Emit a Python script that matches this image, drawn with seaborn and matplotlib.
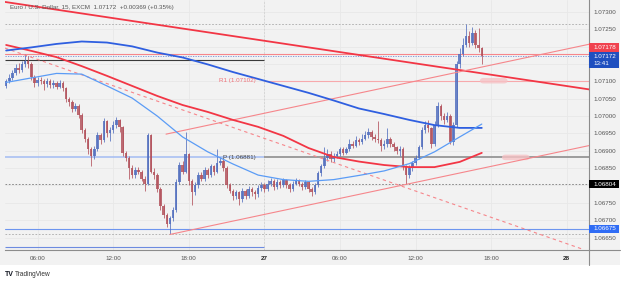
import numpy as np
import pandas as pd
import matplotlib
matplotlib.use("Agg")
import matplotlib.pyplot as plt
import matplotlib.transforms as mtransforms
from matplotlib.patches import Rectangle, FancyBboxPatch
from matplotlib.lines import Line2D
import seaborn as sns

# ---- data (EUR/USD, 15 min bars) ----
# time axis in hours counted from day 26 00:00
bar_start = 3.5
bar_step = 0.25
first_open = 1.07088

closes = [
    1.07100, 1.07110, 1.07125, 1.07140, 1.07132, 1.07150, 1.07160, 1.07150,
    1.07112, 1.07095, 1.07105, 1.07100, 1.07092, 1.07102, 1.07090, 1.07096,
    1.07085, 1.07095, 1.07080, 1.07050, 1.07040, 1.07020, 1.07030, 1.07003,
    1.06960, 1.06935, 1.06905, 1.06885, 1.06905, 1.06945, 1.06930, 1.06985,
    1.06950, 1.06960, 1.06975, 1.06990, 1.06968, 1.06895, 1.06880, 1.06850,
    1.06830, 1.06845, 1.06840, 1.06820, 1.06805, 1.06945, 1.06840, 1.06830,
    1.06790, 1.06740, 1.06715, 1.06690, 1.06705, 1.06730, 1.06810, 1.06860,
    1.06840, 1.06890, 1.06812, 1.06780, 1.06800, 1.06830, 1.06820, 1.06845,
    1.06830, 1.06855, 1.06840, 1.06865, 1.06872, 1.06850, 1.06800, 1.06785,
    1.06770, 1.06780, 1.06760, 1.06785, 1.06770, 1.06790, 1.06780, 1.06775,
    1.06792, 1.06800, 1.06790, 1.06805, 1.06812, 1.06795, 1.06810, 1.06800,
    1.06815, 1.06800, 1.06790, 1.06805, 1.06815, 1.06805, 1.06795, 1.06810,
    1.06790, 1.06780, 1.06800, 1.06835, 1.06855, 1.06880, 1.06890, 1.06875,
    1.06885, 1.06890, 1.06905, 1.06895, 1.06905, 1.06920, 1.06915, 1.06930,
    1.06925, 1.06935, 1.06945, 1.06955, 1.06940, 1.06935, 1.06930, 1.06915,
    1.06920, 1.06935, 1.06920, 1.06910, 1.06900, 1.06905, 1.06855, 1.06830,
    1.06850, 1.06865, 1.06880, 1.06910, 1.06960, 1.06975, 1.06965, 1.06920,
    1.06975, 1.07030, 1.07000, 1.06990, 1.07000, 1.06925, 1.06975, 1.07150,
    1.07180, 1.07205, 1.07230, 1.07212, 1.07240, 1.07205, 1.07195, 1.07172,
]
highs = [
    1.07108, 1.07120, 1.07132, 1.07150, 1.07152, 1.07160, 1.07178, 1.07172,
    1.07155, 1.07118, 1.07112, 1.07114, 1.07108, 1.07110, 1.07108, 1.07104,
    1.07102, 1.07103, 1.07100, 1.07084, 1.07056, 1.07046, 1.07038, 1.07036,
    1.07008, 1.06966, 1.06940, 1.06912, 1.06915, 1.06955, 1.06952, 1.06995,
    1.06990, 1.06968, 1.06985, 1.06996, 1.06992, 1.06972, 1.06900, 1.06885,
    1.06858, 1.06852, 1.06852, 1.06846, 1.06826, 1.06950, 1.06948, 1.06850,
    1.06835, 1.06795, 1.06748, 1.06722, 1.06712, 1.06738, 1.06818, 1.06868,
    1.06872, 1.06955, 1.06895, 1.06818, 1.06810, 1.06838, 1.06840, 1.06852,
    1.06850, 1.06862, 1.06860, 1.06905, 1.06882, 1.06878, 1.06855, 1.06806,
    1.06790, 1.06788, 1.06785, 1.06792, 1.06790, 1.06798, 1.06795, 1.06786,
    1.06800, 1.06810, 1.06806, 1.06815, 1.06822, 1.06818, 1.06818, 1.06815,
    1.06822, 1.06820, 1.06806, 1.06812, 1.06822, 1.06820, 1.06810, 1.06816,
    1.06814, 1.06795, 1.06808, 1.06842, 1.06862, 1.06912, 1.06905, 1.06898,
    1.06895, 1.06900, 1.06912, 1.06910, 1.06912, 1.06935, 1.06928, 1.06942,
    1.06938, 1.06948, 1.06958, 1.06965, 1.06960, 1.06948, 1.06985, 1.06938,
    1.06932, 1.06965, 1.06940, 1.06925, 1.06915, 1.06915, 1.06910, 1.06860,
    1.06858, 1.06872, 1.06888, 1.06918, 1.06968, 1.06985, 1.06990, 1.06970,
    1.06985, 1.07040, 1.07035, 1.07010, 1.07012, 1.07005, 1.06982, 1.07158,
    1.07195, 1.07225, 1.07264, 1.07245, 1.07258, 1.07248, 1.07255, 1.07200,
]
lows = [
    1.07080, 1.07094, 1.07105, 1.07118, 1.07125, 1.07128, 1.07142, 1.07140,
    1.07105, 1.07085, 1.07088, 1.07092, 1.07075, 1.07085, 1.07082, 1.07080,
    1.07078, 1.07080, 1.07072, 1.07042, 1.07030, 1.07012, 1.07014, 1.06995,
    1.06950, 1.06925, 1.06890, 1.06855, 1.06875, 1.06898, 1.06920, 1.06925,
    1.06940, 1.06928, 1.06952, 1.06965, 1.06955, 1.06885, 1.06870, 1.06820,
    1.06822, 1.06822, 1.06832, 1.06812, 1.06785, 1.06800, 1.06835, 1.06820,
    1.06782, 1.06730, 1.06705, 1.06680, 1.06660, 1.06698, 1.06725, 1.06805,
    1.06832, 1.06835, 1.06800, 1.06745, 1.06772, 1.06792, 1.06812, 1.06812,
    1.06822, 1.06825, 1.06830, 1.06835, 1.06858, 1.06842, 1.06792, 1.06778,
    1.06758, 1.06762, 1.06745, 1.06752, 1.06762, 1.06765, 1.06770, 1.06762,
    1.06768, 1.06785, 1.06780, 1.06785, 1.06798, 1.06788, 1.06790, 1.06792,
    1.06795, 1.06792, 1.06782, 1.06785, 1.06800, 1.06798, 1.06788, 1.06790,
    1.06782, 1.06770, 1.06775, 1.06795, 1.06828, 1.06850, 1.06872, 1.06868,
    1.06868, 1.06878, 1.06885, 1.06888, 1.06890, 1.06900, 1.06908, 1.06910,
    1.06918, 1.06920, 1.06930, 1.06938, 1.06932, 1.06925, 1.06922, 1.06898,
    1.06905, 1.06912, 1.06910, 1.06898, 1.06890, 1.06885, 1.06845, 1.06805,
    1.06822, 1.06842, 1.06858, 1.06875, 1.06905, 1.06952, 1.06955, 1.06908,
    1.06915, 1.06968, 1.06990, 1.06978, 1.06982, 1.06920, 1.06918, 1.06970,
    1.07140, 1.07172, 1.07198, 1.07200, 1.07205, 1.07195, 1.07185, 1.07150,
]

# moving averages, read every two hours
ma_times = [3.5, 5.5, 7.5, 9.5, 11.5, 13.5, 15.5, 17.5, 19.5, 21.5,
            23.5, 25.5, 27.5, 29.5, 31.5, 33.5, 35.5, 37.5, 39.5, 41.25]
ma_slow_blue = [1.07189, 1.07198, 1.07208, 1.07215, 1.07212, 1.07201, 1.07183,
                1.07169, 1.07149, 1.07127, 1.07107, 1.07087, 1.07067, 1.07045,
                1.07022, 1.07006, 1.06989, 1.06974, 1.06966, 1.06966]
ma_fast_blue = [1.07097, 1.07110, 1.07123, 1.07121, 1.07087, 1.07052, 1.07000,
                1.06940, 1.06897, 1.06862, 1.06830, 1.06817, 1.06812, 1.06817,
                1.06829, 1.06842, 1.06863, 1.06897, 1.06940, 1.06977]
ma_red = [1.07205, 1.07188, 1.07170, 1.07144, 1.07116, 1.07087, 1.07058,
          1.07032, 1.07012, 1.06989, 1.06969, 1.06943, 1.06908, 1.06882,
          1.06869, 1.06859, 1.06853, 1.06853, 1.06868, 1.06894]

# drawn trend lines: (start time, end time), (start price, end price)
down_trend_t = [3.41, 49.76]
down_trend_p = [1.07329, 1.07077]
dashed_trend_t = [3.41, 49.21]
dashed_trend_p = [1.07196, 1.06617]
channel_up_t = [16.19, 49.76]
channel_up_p = [1.06948, 1.07207]
channel_low_t = [16.51, 49.76]
channel_low_p = [1.06659, 1.06915]

# horizontal levels
last_price = 1.07172
ask_level = 1.07178
r1_level = 1.07102
pivot_level = 1.06881
prev_close_level = 1.07161
prev_low_level = 1.06622
support_level = 1.06675
day_high = 1.07264
dotted_level = 1.06804
day_low = 1.06659

time_ticks = [6, 12, 18, 24, 30, 36, 42, 48]
time_labels = ["06:00", "12:00", "18:00", "27", "06:00", "12:00", "18:00", "28"]
price_ticks = [1.0665, 1.0670, 1.0675, 1.0685, 1.0690, 1.0695, 1.0700,
               1.0705, 1.0710, 1.0725, 1.0730]

# ---- styling ----
sns.set_theme(style="white")
plt.rcParams["font.family"] = ["Liberation Sans", "DejaVu Sans"]
FS = 4.5

BG = "#f2f2f2"
UP = "#5470bf"
DOWN = "#b3535d"
RED = "#f23645"
LIGHT_RED = "#f6868b"
BLUE = "#2f5fe0"
LIGHT_BLUE = "#5b9cf6"

W, H = 625, 283
fig = plt.figure(figsize=(W / 100, H / 100), dpi=100, facecolor="white")
fig.add_artist(Rectangle((0, 1 - 265 / H), 620 / W, 265 / H,
                         transform=fig.transFigure, fc=BG, ec="none", zorder=0))
ax = fig.add_axes([5 / W, 1 - 250 / H, 584 / W, 250 / H])
ax.set_facecolor(BG)

t_min, t_max = 3.41, 49.76
ax.set_xlim(t_min, t_max)
ax.set_ylim(1.066141, 1.073346)

# faint grid
for t in time_ticks:
    ax.axvline(t, color="#e8e8e8", lw=0.6, zorder=0.5)
for p in np.arange(1.0665, 1.0731, 0.0005):
    ax.axhline(p, color="#e8e8e8", lw=0.6, zorder=0.5)
ax.axvline(24, color="#d0d0d0", lw=0.6, ls=(0, (2, 2)), zorder=0.6)

# candles
df = pd.DataFrame({"close": closes, "high": highs, "low": lows})
df["open"] = [first_open] + closes[:-1]
df["t"] = bar_start + bar_step * np.arange(len(df))
df["up"] = df["close"] >= df["open"]
colors = np.where(df["up"], UP, DOWN)
body_lo = df[["open", "close"]].min(axis=1)
body_h = (df["close"] - df["open"]).abs().clip(lower=0.000014)
ax.vlines(df["t"], df["low"], df["high"], colors=colors, lw=0.7, alpha=0.8, zorder=2)
ax.bar(df["t"], body_h, bottom=body_lo, width=0.2, color=colors, lw=0,
       alpha=0.85, zorder=2.1)

# horizontal levels
ax.axhline(day_high, color="#a8a8a8", lw=0.6, ls=(0, (2, 2)), zorder=1)
ax.axhline(dotted_level, color="#7a7a7a", lw=0.6, ls=(0, (2, 2)), zorder=1)
ax.axhline(day_low, color="#a8a8a8", lw=0.6, ls=(0, (2, 2)), zorder=1)
ax.axhline(ask_level, color=LIGHT_RED, lw=0.8, zorder=1)
ax.axhline(last_price, color="#6f8fd8", lw=0.6, ls=(0, (1.5, 1.5)), zorder=1)
ax.axhline(support_level, color="#6d95ef", lw=0.8, zorder=1)
ax.hlines(prev_close_level, t_min, 24, color="#3a3a3a", lw=0.8, zorder=1)
ax.hlines(pivot_level, t_min, 24, color="#a9c0f2", lw=1.2, zorder=1)
ax.hlines(prev_low_level, t_min, 24, color="#6d8be0", lw=0.8, zorder=1)
ax.hlines(pivot_level, 24, t_max, color="#8e8e8e", lw=1.2, zorder=1)
ax.hlines(r1_level, 24, t_max, color="#f7a9ac", lw=0.8, zorder=1)
for x0, lvl in [(41.1, r1_level), (42.85, pivot_level)]:
    ax.add_patch(FancyBboxPatch((x0, lvl - 0.00008), 2.2, 0.00016,
                                boxstyle="round,pad=0,rounding_size=0.3",
                                fc="#f6c3c6", ec="none", alpha=0.8,
                                mutation_aspect=0.0003, zorder=1.2))
ax.text(23.3, r1_level, "R1 (1.07102)", color="#f07078", fontsize=FS,
        ha="right", va="center", zorder=4)
ax.text(23.3, pivot_level, "P (1.06881)", color="#444444", fontsize=FS,
        ha="right", va="center", zorder=4)

# trend lines
sns.lineplot(x=down_trend_t, y=down_trend_p, ax=ax, color=RED, lw=1.3, zorder=3)
sns.lineplot(x=dashed_trend_t, y=dashed_trend_p, ax=ax, color=LIGHT_RED, lw=0.8,
             zorder=3)
ax.lines[-1].set_linestyle((0, (3, 3)))
sns.lineplot(x=channel_up_t, y=channel_up_p, ax=ax, color=LIGHT_RED, lw=0.8, zorder=3)
sns.lineplot(x=channel_low_t, y=channel_low_p, ax=ax, color=LIGHT_RED, lw=0.8, zorder=3)

# moving averages
sns.lineplot(x=ma_times, y=ma_red, ax=ax, color=RED, lw=1.3, zorder=3.2)
sns.lineplot(x=ma_times, y=ma_slow_blue, ax=ax, color=BLUE, lw=1.3, zorder=3.2)
sns.lineplot(x=ma_times, y=ma_fast_blue, ax=ax, color=LIGHT_BLUE, lw=0.9, zorder=3.3)

# axes
for s in ["top", "left"]:
    ax.spines[s].set_visible(False)
for s in ["bottom", "right"]:
    ax.spines[s].set_color("#8c8c8c")
    ax.spines[s].set_linewidth(0.8)
fig.add_artist(Line2D([589 / W, 589 / W], [1 - 265 / H, 1 - 250 / H],
                      transform=fig.transFigure, color="#8c8c8c", lw=0.8))
fig.add_artist(Line2D([589 / W, 620 / W], [1 - 250 / H, 1 - 250 / H],
                      transform=fig.transFigure, color="#8c8c8c", lw=0.8))

ax.set_xticks(time_ticks)
ax.set_xticklabels(time_labels)
ax.yaxis.tick_right()
ax.set_yticks(price_ticks)
ax.set_yticklabels([f"{p:.5f}" for p in price_ticks])
ax.tick_params(axis="x", length=0, pad=4.5, labelsize=FS, labelcolor="#555555")
ax.tick_params(axis="y", length=0, pad=3, labelsize=FS, labelcolor="#555555")
for lbl in ax.get_xticklabels():
    if lbl.get_text() in ("27", "28"):
        lbl.set_color("#222222")
        lbl.set_fontweight("bold")
ax.set_xlabel("")
ax.set_ylabel("")

# price boxes on the right axis
trans = mtransforms.blended_transform_factory(ax.transAxes, ax.transData)
box_w = 30 / 584


def price_box(y0, y1, color, lines):
    ax.add_patch(Rectangle((1.0, y0), box_w, y1 - y0, transform=trans, fc=color,
                           ec="none", clip_on=False, zorder=5))
    for yy, txt in lines:
        ax.text(1.0 + 4 / 584, yy, txt, transform=trans, color="white",
                fontsize=FS, va="center", ha="left", clip_on=False, zorder=6)


price_box(1.07186, 1.07210, "#f0424f", [(1.07198, "1.07178")])
price_box(1.07139, 1.07184, "#1f4fbf", [(1.07171, "1.07172"), (1.07151, "13:41")])
price_box(1.06792, 1.06816, "#000000", [(1.06804, "1.06804")])
price_box(1.06664, 1.06686, "#2f6cf5", [(1.06675, "1.06675")])

# header and footer
fig.text(10 / W, 1 - 7.5 / H, "Euro / U.S. Dollar, 15, EXCM  1.07172  +0.00369 (+0.35%)",
         fontsize=FS, color="#555555", va="center", ha="left")
fig.text(5 / W, 1 - 274 / H, "TV", fontsize=5, color="#131722",
         fontweight="bold", va="center", ha="left")
fig.text(14.5 / W, 1 - 274 / H, "TradingView", fontsize=4.7, color="#333333",
         va="center", ha="left")

fig.savefig("out.png", dpi=100, facecolor="white")
